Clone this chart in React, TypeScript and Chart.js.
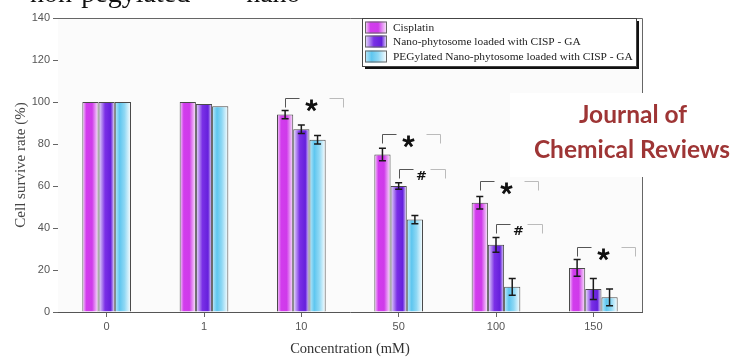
import React, { useEffect, useRef } from "react";
import { Chart, registerables } from "chart.js";

Chart.register(...registerables);

// ---------- data ----------
const categories = ["0", "1", "10", "50", "100", "150"];
const seriesNames = [
  "Cisplatin",
  "Nano-phytosome loaded with CISP - GA",
  "PEGylated Nano-phytosome loaded with CISP - GA",
];
const cisplatin = [100, 100, 94, 75, 52, 21];
const nanoPhytosome = [100, 99, 87, 60, 32, 11];
const pegylated = [100, 98, 82, 44, 12, 7];
const cisplatinErr = [0, 0, 2, 3, 3, 4];
const nanoPhytosomeErr = [0, 0, 2, 1.5, 3.5, 5];
const pegylatedErr = [0, 0, 2, 2, 4, 4];
const yTickValues = [0, 20, 40, 60, 80, 100, 120, 140];

// significance marks
const sigCategory = [2, 3, 3, 4, 4, 5];
const sigSeries = [0, 0, 1, 0, 1, 0];
const sigLevel = [102, 85, 68, 62.5, 42, 31];
const sigSymbol = ["*", "*", "#", "*", "#", "*"];

const headerText = "non-pegylated   \u2013   nano";
const watermarkLines = ["Journal of", "Chemical Reviews"];
const xTitle = "Concentration (mM)";
const yTitle = "Cell survive rate (%)";

const seriesValues = [cisplatin, nanoPhytosome, pegylated];
const seriesErrors = [cisplatinErr, nanoPhytosomeErr, pegylatedErr];

// ---------- styles ----------
const gradientStops: [number, string][][] = [
  [
    [0, "#f6dcf9"],
    [0.25, "#d23ced"],
    [0.6, "#cf3aea"],
    [1, "#fbeffc"],
  ],
  [
    [0, "#ece4fb"],
    [0.4, "#7a30e6"],
    [0.75, "#6520dc"],
    [1, "#eee8fb"],
  ],
  [
    [0, "#bfe9fa"],
    [0.3, "#5ec6ef"],
    [0.6, "#8fd8f4"],
    [1, "#ffffff"],
  ],
];
const solidColors = ["#cc33ea", "#6a22e0", "#62c6ee"];

function makeGradient(ctx: CanvasRenderingContext2D, left: number, width: number, s: number) {
  const g = ctx.createLinearGradient(left, 0, left + width, 0);
  for (const [o, c] of gradientStops[s]) g.addColorStop(o, c);
  return g;
}

const CAT_PCT = 0.5;

function barBackground(s: number) {
  return (c: any) => {
    const chart = c.chart;
    const x = chart.scales?.x;
    if (!x || c.dataIndex === undefined || !chart.chartArea) return solidColors[s];
    const n = categories.length;
    const center = x.getPixelForValue(c.dataIndex);
    const catW = (x.right - x.left) / n;
    const groupW = catW * CAT_PCT;
    const barW = groupW / 3;
    const left = center - groupW / 2 + s * barW;
    return makeGradient(chart.ctx, left, barW, s);
  };
}

function drawStar(ctx: CanvasRenderingContext2D, cx: number, cy: number, r: number) {
  ctx.save();
  ctx.strokeStyle = "#111";
  ctx.lineWidth = 2.8;
  ctx.lineCap = "butt";
  ctx.beginPath();
  for (let a = 0; a < 5; a++) {
    const ang = -Math.PI / 2 + (a * 2 * Math.PI) / 5;
    ctx.moveTo(cx, cy);
    ctx.lineTo(cx + r * Math.cos(ang), cy + r * Math.sin(ang));
  }
  ctx.stroke();
  ctx.restore();
}

const decorPlugin = {
  id: "decor",
  beforeDatasetsDraw(chart: any) {
    const { ctx, chartArea } = chart;
    ctx.save();
    ctx.fillStyle = "#fbfbfb";
    ctx.fillRect(chartArea.left, chartArea.top, chartArea.right - chartArea.left, chartArea.bottom - chartArea.top);
    ctx.restore();
  },
  afterDatasetsDraw(chart: any) {
    const { ctx, chartArea } = chart;
    const y = chart.scales.y;
    ctx.save();

    // frame (top + right)
    ctx.strokeStyle = "#666";
    ctx.lineWidth = 1;
    ctx.beginPath();
    ctx.moveTo(chartArea.left, chartArea.top + 0.5);
    ctx.lineTo(chartArea.right + 0.5, chartArea.top + 0.5);
    ctx.lineTo(chartArea.right + 0.5, chartArea.bottom);
    ctx.stroke();

    // error bars
    ctx.strokeStyle = "#1a1a1a";
    ctx.lineWidth = 1.5;
    seriesValues.forEach((vals, s) => {
      const meta = chart.getDatasetMeta(s);
      vals.forEach((v, i) => {
        const e = seriesErrors[s][i];
        if (!e) return;
        const bx = meta.data[i].x;
        const yTop = y.getPixelForValue(v + e);
        const yBot = y.getPixelForValue(v - e);
        ctx.beginPath();
        ctx.moveTo(bx, yTop);
        ctx.lineTo(bx, yBot);
        ctx.moveTo(bx - 3.5, yTop);
        ctx.lineTo(bx + 3.5, yTop);
        ctx.moveTo(bx - 3.5, yBot);
        ctx.lineTo(bx + 3.5, yBot);
        ctx.stroke();
      });
    });

    // significance brackets
    sigCategory.forEach((cat, k) => {
      const meta = chart.getDatasetMeta(sigSeries[k]);
      const x0 = Math.round(meta.data[cat].x) + 0.5;
      const yL = Math.round(y.getPixelForValue(sigLevel[k])) + 0.5;
      const isStar = sigSymbol[k] === "*";
      const rightEnd = isStar ? 58 : 46;
      const dashStart = isStar ? 44 : 31;
      ctx.lineWidth = 1;
      ctx.strokeStyle = "#555";
      ctx.beginPath();
      ctx.moveTo(x0, yL + 9);
      ctx.lineTo(x0, yL);
      ctx.lineTo(x0 + 14, yL);
      ctx.stroke();
      ctx.strokeStyle = "#bbb";
      ctx.beginPath();
      ctx.moveTo(x0 + dashStart, yL);
      ctx.lineTo(x0 + rightEnd, yL);
      ctx.lineTo(x0 + rightEnd, yL + 9);
      ctx.stroke();
      if (isStar) {
        drawStar(ctx, x0 + 26, yL + 7, 6);
      } else {
        ctx.fillStyle = "#111";
        ctx.textAlign = "center";
        ctx.textBaseline = "alphabetic";
        ctx.font = "bold 13px 'DejaVu Sans'";
        ctx.fillText("#", x0 + 22, yL + 10);
      }
    });

    ctx.restore();
  },
  afterDraw(chart: any) {
    const { ctx, chartArea } = chart;
    ctx.save();

    // legend box
    const lx = 362, ly = chartArea.top, lw = 274, lh = 48;
    ctx.fillStyle = "#111";
    ctx.fillRect(lx + 3, ly + 3, lw, lh);
    ctx.fillStyle = "#ffffff";
    ctx.fillRect(lx, ly, lw, lh);
    ctx.strokeStyle = "#444";
    ctx.lineWidth = 1;
    ctx.strokeRect(lx + 0.5, ly + 0.5, lw, lh);
    const rowY = [ly + 9.5, ly + 23.5, ly + 38.5];
    seriesNames.forEach((name, s) => {
      const sx = lx + 3, sw = 22, sh = 12;
      ctx.fillStyle = makeGradient(ctx, sx, sw, s);
      ctx.fillRect(sx, rowY[s] - sh / 2, sw, sh);
      ctx.strokeStyle = "#666";
      ctx.strokeRect(sx + 0.5, rowY[s] - sh / 2 + 0.5, sw - 1, sh - 1);
      ctx.fillStyle = "#222";
      ctx.font = "11.4px 'Liberation Serif'";
      ctx.textAlign = "left";
      ctx.textBaseline = "middle";
      ctx.fillText(name, lx + 31, rowY[s] + 0.5);
    });

    // watermark
    ctx.fillStyle = "#ffffff";
    ctx.fillRect(510, 93, 222, 84);
    ctx.fillStyle = "#9e3535";
    ctx.font = "bold 24.5px Lato";
    ctx.textAlign = "center";
    ctx.textBaseline = "middle";
    ctx.fillText(watermarkLines[0], 633, 115);
    ctx.fillText(watermarkLines[1], 632, 150);

    ctx.restore();
  },
};

export default function App() {
  const canvasRef = useRef<HTMLCanvasElement | null>(null);

  useEffect(() => {
    if (!canvasRef.current) return;
    const chart = new Chart(canvasRef.current, {
      type: "bar",
      data: {
        labels: categories,
        datasets: seriesValues.map((vals, s) => ({
          label: seriesNames[s],
          data: vals,
          backgroundColor: barBackground(s),
          borderColor: "#4a4a4a",
          borderWidth: 1,
          categoryPercentage: CAT_PCT,
          barPercentage: 1,
        })),
      },
      options: {
        responsive: false,
        animation: false,
        layout: { padding: { top: 18, right: 90, left: 0, bottom: 0 } },
        plugins: {
          legend: { display: false },
          tooltip: { enabled: false },
        },
        scales: {
          x: {
            afterFit: (s: any) => {
              s.height = 46;
            },
            grid: {
              display: true,
              drawOnChartArea: false,
              drawTicks: true,
              tickLength: 5,
              offset: false,
              color: "#666",
            },
            border: { display: true, color: "#555", width: 1 },
            ticks: {
              color: "#555",
              font: { family: "'Liberation Sans'", size: 11 },
              padding: 3,
            },
            title: {
              display: true,
              text: xTitle,
              color: "#333",
              font: { family: "'Liberation Serif'", size: 14.5 },
              padding: { top: 0, bottom: 0 },
            },
          },
          y: {
            min: 0,
            max: 140,
            afterFit: (s: any) => {
              s.width = 58;
            },
            afterBuildTicks: (s: any) => {
              s.ticks = yTickValues.map((v) => ({ value: v }));
            },
            grid: {
              display: true,
              drawOnChartArea: false,
              drawTicks: true,
              tickLength: 5,
              color: "#666",
            },
            border: { display: true, color: "#555", width: 1 },
            ticks: {
              color: "#555",
              font: { family: "'Liberation Sans'", size: 11 },
              padding: 3,
            },
            title: {
              display: true,
              text: yTitle,
              color: "#444",
              font: { family: "'Liberation Serif'", size: 15 },
              padding: { top: 12, bottom: 0 },
            },
          },
        },
      },
      plugins: [decorPlugin],
    });
    return () => chart.destroy();
  }, []);

  return (
    <div
      style={{
        position: "fixed",
        left: 0,
        top: 0,
        width: 732,
        height: 358,
        background: "#ffffff",
        overflow: "hidden",
      }}
    >
      <div
        style={{
          position: "absolute",
          left: 30,
          top: -22,
          fontFamily: "'Liberation Serif', serif",
          fontSize: 28,
          lineHeight: "30px",
          color: "#111",
          whiteSpace: "pre",
        }}
      >
        {headerText}
      </div>
      <canvas ref={canvasRef} width={732} height={358} style={{ display: "block" }} />
    </div>
  );
}
